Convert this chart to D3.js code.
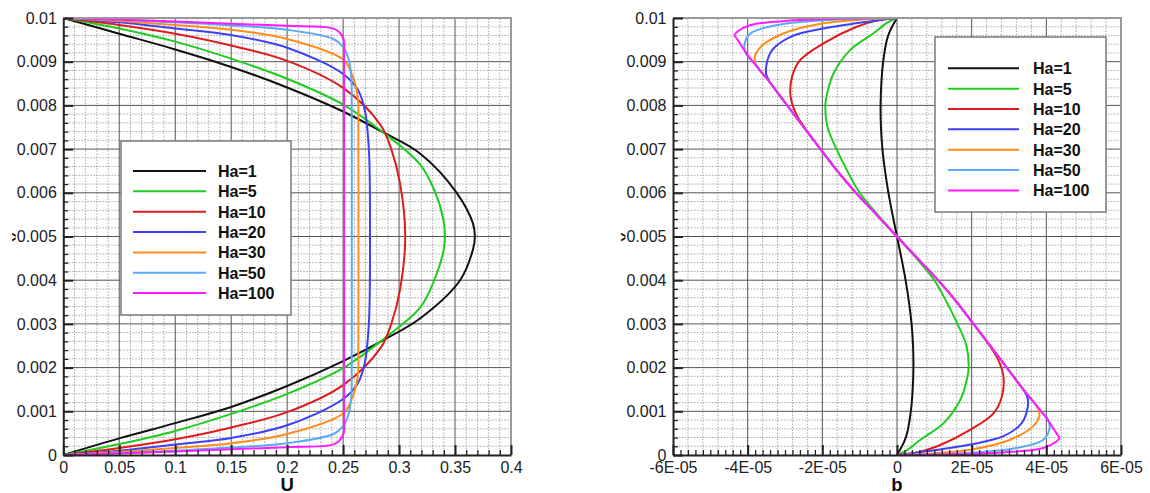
<!DOCTYPE html>
<html><head><meta charset="utf-8">
<script src="https://cdn.jsdelivr.net/npm/d3@7"></script>
<style>
body{margin:0;background:#fff}
svg{display:block}
text{font-family:"Liberation Sans",Arial,Helvetica,sans-serif}
</style>
</head><body>
<svg id="chart" width="1150" height="493"></svg>
<script>
// ---------------- DATA ----------------
const seriesNames  = ["Ha=1","Ha=5","Ha=10","Ha=20","Ha=30","Ha=50","Ha=100"];
const seriesColors = ["#111111","#1fcc1f","#dd1c1c","#3f3ff5","#ff8c1a","#5aaaf5","#ff1aff"];

const yTicks      = [0,0.001,0.002,0.003,0.004,0.005,0.006,0.007,0.008,0.009,0.01];
const yTickLabels = ["0","0.001","0.002","0.003","0.004","0.005","0.006","0.007","0.008","0.009","0.01"];
const uTicks      = [0,0.05,0.1,0.15,0.2,0.25,0.3,0.35,0.4];
const uTickLabels = ["0","0.05","0.1","0.15","0.2","0.25","0.3","0.35","0.4"];
const bTicks      = [-6e-5,-4e-5,-2e-5,0,2e-5,4e-5,6e-5];
const bTickLabels = ["-6E-05","-4E-05","-2E-05","0","2E-05","4E-05","6E-05"];

// velocity profiles: [Y, U]
const U_Ha1 = [[0,0],[0.00038,0.05],[0.00073,0.10],[0.0011,0.15],[0.00158,0.20],[0.00215,0.25],[0.00263,0.286],[0.00313,0.319],[0.0040,0.3545],[0.0047,0.366],[0.0050,0.3677],[0.0053,0.366],[0.0060,0.3515],[0.0069,0.3187],[0.00742,0.283],[0.00786,0.25],[0.00841,0.20],[0.00888,0.15],[0.00928,0.10],[0.00964,0.05],[0.01,0]];
const U_Ha5 = [[0,0],[0.00025,0.05],[0.00055,0.10],[0.00094,0.15],[0.0014,0.20],[0.00199,0.25],[0.00265,0.286],[0.00337,0.3187],[0.00395,0.3306],[0.00465,0.3395],[0.0050,0.341],[0.0054,0.3395],[0.00603,0.332],[0.00665,0.3187],[0.00738,0.286],[0.00802,0.25],[0.00861,0.20],[0.00907,0.15],[0.00946,0.10],[0.00976,0.05],[0.01,0]];
const U_Ha10 = [[0,0],[0.00016,0.05],[0.00036,0.10],[0.00063,0.15],[0.00098,0.20],[0.0016,0.25],[0.00245,0.2835],[0.0030,0.293],[0.0038,0.301],[0.0050,0.3055],[0.0062,0.301],[0.0070,0.293],[0.00755,0.2835],[0.0084,0.25],[0.00902,0.20],[0.00937,0.15],[0.00964,0.10],[0.00984,0.05],[0.01,0]];
const U_Ha20 = [[0,0],[0.0001,0.05],[0.00024,0.10],[0.00039,0.15],[0.00068,0.20],[0.00128,0.25],[0.00165,0.2633],[0.0021,0.2693],[0.0030,0.273],[0.0050,0.274],[0.0070,0.273],[0.0079,0.2693],[0.00835,0.2633],[0.00872,0.25],[0.00932,0.20],[0.00961,0.15],[0.00976,0.10],[0.0099,0.05],[0.01,0]];
const U_Ha30 = [[0,0],[0.00007,0.05],[0.00016,0.10],[0.00027,0.15],[0.00048,0.20],[0.00095,0.25],[0.00127,0.2576],[0.0018,0.263],[0.0025,0.2636],[0.0050,0.2637],[0.0075,0.2636],[0.0082,0.263],[0.00873,0.2576],[0.00905,0.25],[0.00952,0.20],[0.00973,0.15],[0.00984,0.10],[0.00993,0.05],[0.01,0]];
const U_Ha50 = [[0,0],[0.00004,0.05],[0.0001,0.10],[0.00017,0.15],[0.00027,0.20],[0.00048,0.2414],[0.00066,0.25],[0.00092,0.2547],[0.0013,0.2572],[0.002,0.2577],[0.005,0.2577],[0.008,0.2577],[0.0087,0.2572],[0.00908,0.2547],[0.00934,0.25],[0.00952,0.2414],[0.00973,0.20],[0.00983,0.15],[0.0099,0.10],[0.00996,0.05],[0.01,0]];
const U_Ha100 = [[0,0],[0.00004,0.05],[0.00008,0.10],[0.00013,0.15],[0.00018,0.20],[0.00022,0.2377],[0.00031,0.246],[0.0005,0.2505],[0.0008,0.2508],[0.005,0.2508],[0.0092,0.2508],[0.0095,0.2505],[0.00969,0.246],[0.00978,0.2377],[0.00982,0.20],[0.00987,0.15],[0.00992,0.10],[0.00996,0.05],[0.01,0]];

// induced field profiles: [Y, b]
const B_Ha1 = [[0,0],[0.0003,1.9e-6],[0.0005,2.7e-6],[0.001,3.7e-6],[0.0015,4.2e-6],[0.002,4.4e-6],[0.0025,4.3e-6],[0.003,3.9e-6],[0.0035,3.2e-6],[0.004,2.3e-6],[0.0045,1.2e-6],[0.005,0],[0.0055,-1.2e-6],[0.006,-2.3e-6],[0.0065,-3.2e-6],[0.007,-3.9e-6],[0.0075,-4.3e-6],[0.008,-4.4e-6],[0.0085,-4.2e-6],[0.009,-3.7e-6],[0.0095,-2.7e-6],[0.0097,-1.9e-6],[0.01,0]];
const B_Ha5 = [[0,0],[0.0001,2.5e-6],[0.00035,6.3e-6],[0.00073,1.25e-5],[0.00127,1.7e-5],[0.00172,1.87e-5],[0.002,1.92e-5],[0.0025,1.86e-5],[0.003,1.62e-5],[0.00355,1.3e-5],[0.004,1.0e-5],[0.0045,5.2e-6],[0.005,0],[0.0055,-5.2e-6],[0.006,-1.0e-5],[0.00645,-1.3e-5],[0.007,-1.62e-5],[0.0075,-1.86e-5],[0.008,-1.92e-5],[0.00828,-1.87e-5],[0.00873,-1.7e-5],[0.00927,-1.25e-5],[0.00965,-6.3e-6],[0.0099,-2.5e-6],[0.01,0]];
const B_Ha10 = [[0,0],[0.00006,5.4e-6],[0.0002,1.08e-5],[0.00058,1.97e-5],[0.00096,2.59e-5],[0.00134,2.81e-5],[0.0018,2.85e-5],[0.0022,2.7e-5],[0.0025,2.48e-5],[0.003,2.05e-5],[0.0035,1.6e-5],[0.004,1.1e-5],[0.0045,5.5e-6],[0.005,0],[0.0055,-5.5e-6],[0.006,-1.1e-5],[0.0065,-1.6e-5],[0.007,-2.05e-5],[0.0075,-2.48e-5],[0.0078,-2.7e-5],[0.0082,-2.85e-5],[0.00866,-2.81e-5],[0.00904,-2.59e-5],[0.00942,-1.97e-5],[0.0098,-1.08e-5],[0.00994,-5.4e-6],[0.01,0]];
const B_Ha20 = [[0,0],[0.00012,1.1e-5],[0.00024,1.97e-5],[0.00043,2.85e-5],[0.00073,3.34e-5],[0.00104,3.49e-5],[0.0013,3.5e-5],[0.0015,3.38e-5],[0.002,2.94e-5],[0.0025,2.5e-5],[0.003,2.05e-5],[0.0035,1.6e-5],[0.004,1.1e-5],[0.0045,5.5e-6],[0.005,0],[0.0055,-5.5e-6],[0.006,-1.1e-5],[0.0065,-1.6e-5],[0.007,-2.05e-5],[0.0075,-2.5e-5],[0.008,-2.94e-5],[0.0085,-3.38e-5],[0.0087,-3.5e-5],[0.00896,-3.49e-5],[0.00927,-3.34e-5],[0.00957,-2.85e-5],[0.00976,-1.97e-5],[0.00988,-1.1e-5],[0.01,0]];
const B_Ha30 = [[0,0],[0.00004,1.0e-5],[0.00012,1.97e-5],[0.00035,3.03e-5],[0.00066,3.65e-5],[0.00089,3.81e-5],[0.00104,3.79e-5],[0.0012,3.68e-5],[0.0015,3.38e-5],[0.002,2.94e-5],[0.0025,2.5e-5],[0.003,2.05e-5],[0.0035,1.6e-5],[0.004,1.1e-5],[0.0045,5.5e-6],[0.005,0],[0.0055,-5.5e-6],[0.006,-1.1e-5],[0.0065,-1.6e-5],[0.007,-2.05e-5],[0.0075,-2.5e-5],[0.008,-2.94e-5],[0.0085,-3.38e-5],[0.0088,-3.68e-5],[0.00896,-3.79e-5],[0.00911,-3.81e-5],[0.00934,-3.65e-5],[0.00965,-3.03e-5],[0.00988,-1.97e-5],[0.00996,-1.0e-5],[0.01,0]];
const B_Ha50 = [[0,0],[0.00001,1.0e-5],[0.00005,1.97e-5],[0.00016,3.21e-5],[0.00035,3.92e-5],[0.00058,4.08e-5],[0.00081,4.05e-5],[0.001,3.86e-5],[0.0015,3.38e-5],[0.002,2.94e-5],[0.0025,2.5e-5],[0.003,2.05e-5],[0.0035,1.6e-5],[0.004,1.1e-5],[0.0045,5.5e-6],[0.005,0],[0.0055,-5.5e-6],[0.006,-1.1e-5],[0.0065,-1.6e-5],[0.007,-2.05e-5],[0.0075,-2.5e-5],[0.008,-2.94e-5],[0.0085,-3.38e-5],[0.009,-3.86e-5],[0.00919,-4.05e-5],[0.00942,-4.08e-5],[0.00965,-3.92e-5],[0.00984,-3.21e-5],[0.00995,-1.97e-5],[0.00999,-1.0e-5],[0.01,0]];
const B_Ha100 = [[0,0],[0.00001,1.25e-5],[0.00006,2.85e-5],[0.00016,3.92e-5],[0.00031,4.27e-5],[0.00039,4.35e-5],[0.0005,4.27e-5],[0.00085,4.0e-5],[0.001,3.86e-5],[0.0015,3.38e-5],[0.002,2.94e-5],[0.0025,2.5e-5],[0.003,2.05e-5],[0.0035,1.6e-5],[0.004,1.1e-5],[0.0045,5.5e-6],[0.005,0],[0.0055,-5.5e-6],[0.006,-1.1e-5],[0.0065,-1.6e-5],[0.007,-2.05e-5],[0.0075,-2.5e-5],[0.008,-2.94e-5],[0.0085,-3.38e-5],[0.009,-3.86e-5],[0.00915,-4.0e-5],[0.0095,-4.27e-5],[0.00961,-4.35e-5],[0.00969,-4.27e-5],[0.00984,-3.92e-5],[0.00994,-2.85e-5],[0.00999,-1.25e-5],[0.01,0]];

const U_series = [U_Ha1,U_Ha5,U_Ha10,U_Ha20,U_Ha30,U_Ha50,U_Ha100];
const B_series = [B_Ha1,B_Ha5,B_Ha10,B_Ha20,B_Ha30,B_Ha50,B_Ha100];

// ---------------- DRAW ----------------
const svg = d3.select("#chart");
svg.append("rect").attr("width",1150).attr("height",493).attr("fill","#fff");

function subdiv(ticks, n){
  const out=[];
  for(let i=0;i<ticks.length-1;i++) for(let k=1;k<n;k++) out.push(ticks[i]+(ticks[i+1]-ticks[i])*k/n);
  return out;
}

function drawPanel(cfg){
  const x = d3.scaleLinear().domain([cfg.xTicks[0], cfg.xTicks[cfg.xTicks.length-1]]).range(cfg.xRange);
  const y = d3.scaleLinear().domain([0,0.01]).range([455,18]);
  const g = svg.append("g");
  const [x0,x1] = cfg.xRange, y0=455, y1=18;

  // minor grid
  const gm = g.append("g").attr("stroke","#a8a8a8").attr("stroke-width",1).attr("stroke-dasharray","1.5,1.5");
  subdiv(cfg.xTicks, cfg.xGridSub).forEach(v=>{
    gm.append("line").attr("x1",x(v)).attr("x2",x(v)).attr("y1",y0).attr("y2",y1);
  });
  subdiv(yTicks,5).forEach(v=>{
    gm.append("line").attr("y1",y(v)).attr("y2",y(v)).attr("x1",x0).attr("x2",x1);
  });
  // major grid
  const gM = g.append("g").attr("stroke","#555").attr("stroke-width",1);
  cfg.xTicks.slice(1,-1).forEach(v=>{
    gM.append("line").attr("x1",x(v)).attr("x2",x(v)).attr("y1",y0).attr("y2",y1);
  });
  yTicks.slice(1,-1).forEach(v=>{
    gM.append("line").attr("y1",y(v)).attr("y2",y(v)).attr("x1",x0).attr("x2",x1);
  });

  // curves
  const clipId = "clip"+cfg.id;
  svg.append("clipPath").attr("id",clipId).append("rect")
     .attr("x",x0).attr("y",y1-2).attr("width",x1-x0+2).attr("height",y0-y1+3);
  const line = d3.line().x(d=>x(d[1])).y(d=>y(d[0])).curve(d3.curveCatmullRom.alpha(0.5));
  const gc = g.append("g").attr("clip-path",`url(#${clipId})`);
  cfg.series.forEach((s,i)=>{
    gc.append("path").attr("d",line(s)).attr("fill","none")
      .attr("stroke",seriesColors[i]).attr("stroke-width",2).attr("stroke-linejoin","round");
  });

  // top/right frame
  g.append("path").attr("d",`M${x0},${y1}H${x1}V${y0}`).attr("fill","none")
   .attr("stroke","#9a9a9a").attr("stroke-width",2);

  // y-axis title (partly hidden behind tick labels)
  g.append("text").attr("transform",`translate(${cfg.yTitleX},237) rotate(-90)`)
   .attr("text-anchor","middle").attr("font-size",14).attr("font-weight","bold")
   .attr("fill","#111").text("Y");

  // left axis
  const ax = g.append("g").attr("transform",`translate(${x0},0)`)
    .call(d3.axisLeft(y).tickValues(yTicks).tickFormat((d,i)=>yTickLabels[i]).tickSize(-10).tickSizeOuter(0).tickPadding(6.5));
  ax.select(".domain").attr("stroke","#222").attr("stroke-width",2);
  ax.selectAll(".tick line").attr("stroke","#222").attr("stroke-width",2);
  ax.selectAll(".tick text").attr("font-size",16).attr("fill","#222")
    .attr("font-family",'"Liberation Sans",Arial,sans-serif');
  ax.selectAll(".tick").each(function(){
    const t = d3.select(this).select("text");
    const bb = t.node().getBBox();
    d3.select(this).insert("rect","text").attr("x",bb.x-1).attr("y",bb.y).attr("width",bb.width+2).attr("height",bb.height).attr("fill","#fff");
  });
  const axm = g.append("g").attr("transform",`translate(${x0},0)`)
    .call(d3.axisLeft(y).tickValues(subdiv(yTicks,5)).tickFormat("").tickSize(-5).tickSizeOuter(0));
  axm.select(".domain").remove();
  axm.selectAll(".tick line").attr("stroke","#222").attr("stroke-width",1.3);

  // bottom axis
  const bx = g.append("g").attr("transform",`translate(0,${y0})`)
    .call(d3.axisBottom(x).tickValues(cfg.xTicks).tickFormat((d,i)=>cfg.xLabels[i]).tickSize(-10).tickSizeOuter(0).tickPadding(7));
  bx.select(".domain").attr("stroke","#222").attr("stroke-width",2);
  bx.selectAll(".tick line").attr("stroke","#222").attr("stroke-width",2);
  bx.selectAll(".tick text").attr("font-size",16).attr("fill","#222")
    .attr("font-family",'"Liberation Sans",Arial,sans-serif');
  const bxm = g.append("g").attr("transform",`translate(0,${y0})`)
    .call(d3.axisBottom(x).tickValues(subdiv(cfg.xTicks,cfg.xTickSub)).tickFormat("").tickSize(-5).tickSizeOuter(0));
  bxm.select(".domain").remove();
  bxm.selectAll(".tick line").attr("stroke","#222").attr("stroke-width",1.3);

  // x-axis title
  g.append("text").attr("x",(x0+x1)/2).attr("y",490.5).attr("text-anchor","middle")
   .attr("font-size",18.5).attr("font-weight","bold").attr("fill","#111").text(cfg.xTitle);

  // legend
  const L = cfg.legend;
  const lg = g.append("g");
  lg.append("rect").attr("x",L.x).attr("y",L.y).attr("width",L.w).attr("height",L.h)
    .attr("fill","#fff").attr("stroke","#7a7a7a").attr("stroke-width",1.5);
  seriesNames.forEach((n,i)=>{
    const cy = L.row0 + i*20.35;
    lg.append("line").attr("x1",L.lx1).attr("x2",L.lx2).attr("y1",cy).attr("y2",cy)
      .attr("stroke",seriesColors[i]).attr("stroke-width",2);
    lg.append("text").attr("x",L.tx).attr("y",cy+6).attr("font-size",16).attr("font-weight","bold")
      .attr("fill","#111").text(n);
  });
}

drawPanel({
  id:"L", xTicks:uTicks, xLabels:uTickLabels, xRange:[63.3,511], xGridSub:5, xTickSub:5,
  series:U_series, xTitle:"U", yTitleX:22,
  legend:{x:121,y:141,w:170,h:174,lx1:133,lx2:206,tx:218,row0:171}
});
drawPanel({
  id:"R", xTicks:bTicks, xLabels:bTickLabels, xRange:[673,1121], xGridSub:5, xTickSub:10,
  series:B_series, xTitle:"b", yTitleX:631,
  legend:{x:935,y:37,w:171,h:175,lx1:948,lx2:1019,tx:1033,row0:68.3}
});
</script>
</body></html>
